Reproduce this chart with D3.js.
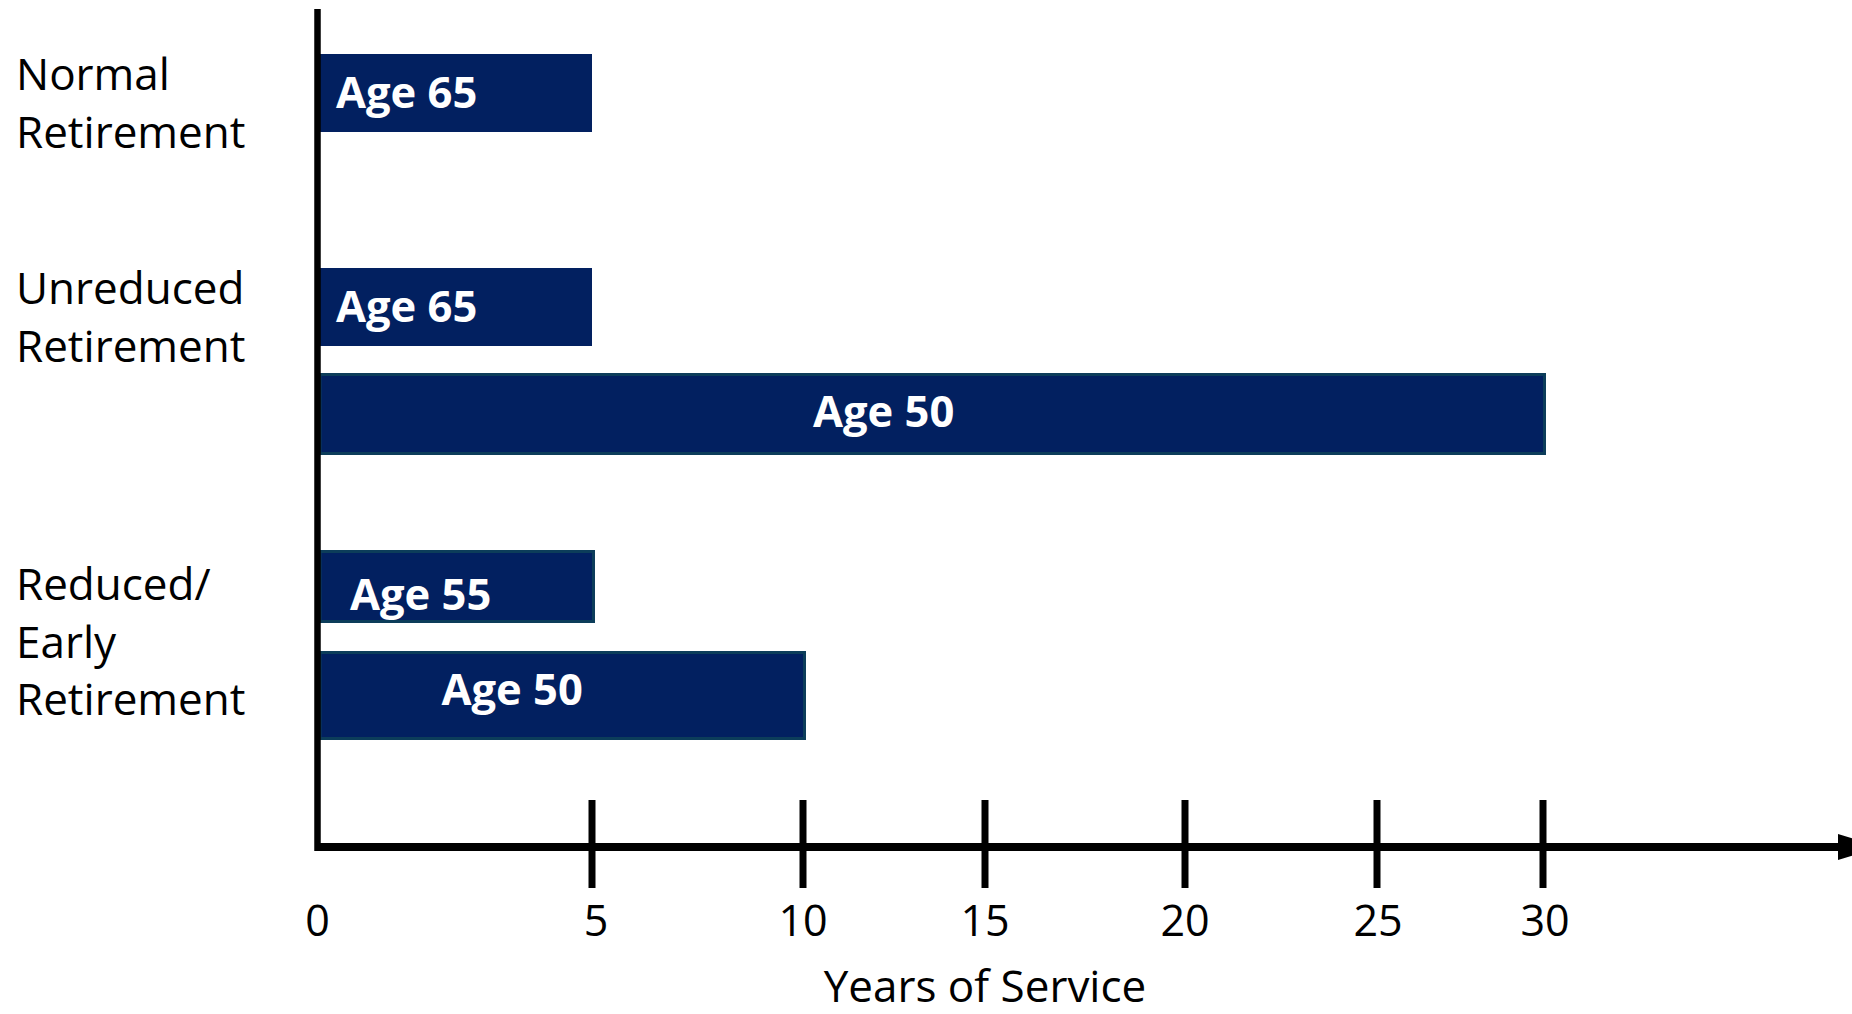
<!DOCTYPE html>
<html>
<head>
<meta charset="utf-8">
<script src="https://cdn.jsdelivr.net/npm/d3@7/dist/d3.min.js"></script>
<style>
  html, body { margin: 0; padding: 0; background: #ffffff; }
  svg { display: block; }
  text { font-family: "Open Sans", "Noto Sans", sans-serif; }
</style>
</head>
<body>
<svg id="chart" width="1852" height="1014"></svg>
<script>
// ---------------- data ----------------
const categories = ["Normal", "Unreduced", "Reduced"];
const categoryLines = [["Normal", "Retirement"], ["Unreduced", "Retirement"], ["Reduced/", "Early", "Retirement"]];
const barIds = ["b0", "b1", "b2", "b3", "b4"];
const barCategory = ["Normal", "Unreduced", "Unreduced", "Reduced", "Reduced"];
const barLabels = ["Age 65", "Age 65", "Age 50", "Age 55", "Age 50"];
const barYears = [5, 5, 30, 5, 10];
const tickValues = [0, 5, 10, 15, 20, 25, 30];
const tickLabels = ["0", "5", "10", "15", "20", "25", "30"];
const axisTitle = "Years of Service";

// ---------------- layout ----------------
const svg = d3.select("#chart");
const NAVY = "#022060";
const EDGE = "#0c3d5a";

// hand-drawn axis: tick spacing is not uniform in the original
const x = d3.scaleLinear()
  .domain(tickValues)
  .range([317.5, 592, 803, 985, 1185, 1377, 1543]);

const yTop = d3.scaleOrdinal().domain(barIds).range([54, 268, 373, 550, 651]);
const yH = d3.scaleOrdinal().domain(barIds).range([78, 78, 82, 73, 89]);
const outlined = d3.scaleOrdinal().domain(barIds).range([false, false, true, true, true]);
const labelDx = d3.scaleOrdinal().domain(barIds).range([18.5, 18.5, 495.5, 32.5, 124]);
const labelDy = d3.scaleOrdinal().domain(barIds).range([15, 15, 12.5, 23.5, 9.5]);
const catBaseline = d3.scaleOrdinal().domain(categories).range([90, 304, 600]);

const axisY = 847;

const bars = barIds.map((id, i) => ({
  id, cat: barCategory[i], label: barLabels[i], years: barYears[i]
}));

// bars
const sw = 3;
svg.append("g").selectAll("rect").data(bars).join("rect")
  .attr("x", d => outlined(d.id) ? x(0) + 1 + sw / 2 : x(0))
  .attr("y", d => outlined(d.id) ? yTop(d.id) + sw / 2 : yTop(d.id))
  .attr("width", d => outlined(d.id) ? x(d.years) + 3 - x(0) - 1 - sw : x(d.years) - x(0))
  .attr("height", d => outlined(d.id) ? yH(d.id) - sw : yH(d.id))
  .attr("fill", NAVY)
  .attr("stroke", d => outlined(d.id) ? EDGE : "none")
  .attr("stroke-width", sw);

// bar labels
svg.append("g").selectAll("text").data(bars).join("text")
  .attr("x", d => x(0) + labelDx(d.id))
  .attr("y", d => yTop(d.id) + yH(d.id) / 2 + labelDy(d.id))
  .attr("fill", "#ffffff")
  .attr("font-size", 43.5)
  .attr("font-weight", 700)
  .text(d => d.label);

// vertical axis line
svg.append("line")
  .attr("x1", x(0)).attr("x2", x(0))
  .attr("y1", 9).attr("y2", axisY + 4)
  .attr("stroke", "#000").attr("stroke-width", 6.5);

// horizontal axis line with arrow
svg.append("line")
  .attr("x1", x(0)).attr("x2", 1842)
  .attr("y1", axisY).attr("y2", axisY)
  .attr("stroke", "#000").attr("stroke-width", 8);
svg.append("path")
  .attr("d", d3.line()([[1838, axisY - 13], [1880, axisY], [1838, axisY + 13]]) + "Z")
  .attr("fill", "#000");

// ticks (skip 0)
svg.append("g").selectAll("line").data(tickValues.filter(v => v > 0)).join("line")
  .attr("x1", d => x(d)).attr("x2", d => x(d))
  .attr("y1", 800).attr("y2", 888)
  .attr("stroke", "#000").attr("stroke-width", 7);

// tick labels
const tickLabelDx = [0, 4, 0, 0, 0, 1, 2];
svg.append("g").selectAll("text").data(tickValues).join("text")
  .attr("x", (d, i) => x(d) + tickLabelDx[i])
  .attr("y", 936)
  .attr("text-anchor", "middle")
  .attr("font-size", 43)
  .attr("fill", "#000")
  .text((d, i) => tickLabels[i]);

// axis title
svg.append("text")
  .attr("x", x(15))
  .attr("y", 1002)
  .attr("text-anchor", "middle")
  .attr("font-size", 44)
  .attr("fill", "#000")
  .text(axisTitle);

// category labels
const catG = svg.append("g").selectAll("text").data(categories).join("text")
  .attr("x", 16)
  .attr("y", d => catBaseline(d))
  .attr("font-size", 44)
  .attr("fill", "#000");
catG.selectAll("tspan").data((d, i) => categoryLines[i]).join("tspan")
  .attr("x", 16)
  .attr("dy", (d, i) => i === 0 ? 0 : 57.5)
  .text(d => d);
</script>
</body>
</html>
